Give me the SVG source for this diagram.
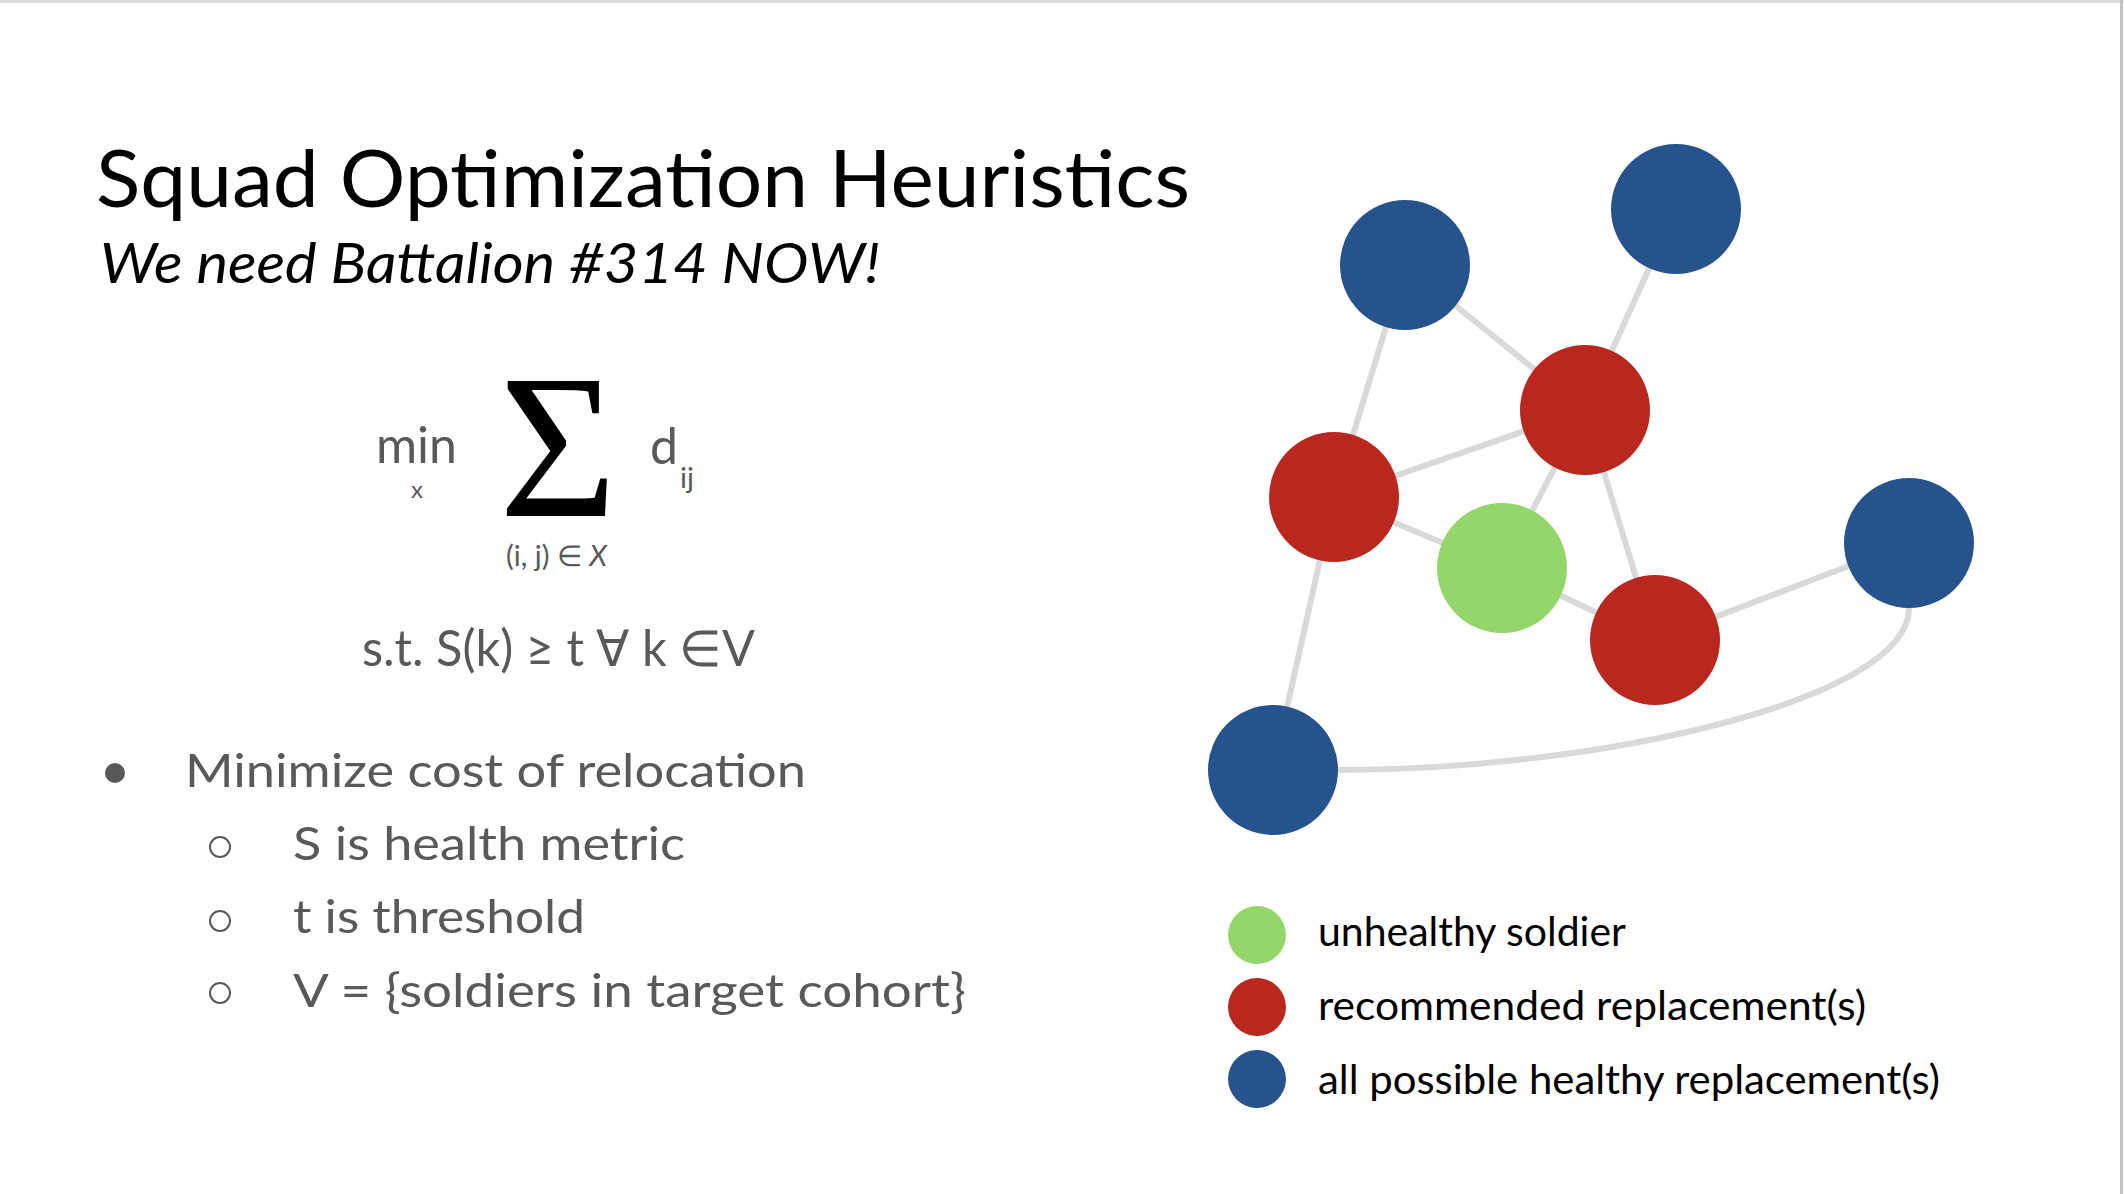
<svg xmlns="http://www.w3.org/2000/svg" width="2124" height="1194" viewBox="0 0 2124 1194">
<style>
.title{font-family:"Lato","Liberation Sans",sans-serif;fill:#000}
.gray{font-family:"Lato","Liberation Sans",sans-serif;fill:#595959}
.leg{font-family:"Lato","Liberation Sans",sans-serif;fill:#000;font-size:41px}
.edge{fill:none;stroke:#d9d9d9;stroke-width:6}
.blue{fill:#26538d}
.red{fill:#ba271e}
.green{fill:#93d76a}
.hollow{fill:none;stroke:#595959;stroke-width:2}
</style>
<rect x="0" y="0" width="2124" height="1194" fill="#ffffff"/>
<rect x="0" y="0" width="2124" height="3" fill="#dadce0"/>
<rect x="2120" y="0" width="3" height="1194" fill="#c4c4c4"/>

<g id="title">
<text class="title" x="96" y="207" font-size="80" textLength="1094" lengthAdjust="spacingAndGlyphs">Squad Optimization Heuristics</text>
<text class="title" x="100" y="283" font-size="56" font-style="italic" textLength="780" lengthAdjust="spacingAndGlyphs">We need Battalion #314 NOW!</text>
</g>

<g id="formula">
<text class="gray" x="376" y="463" font-size="50" textLength="81" lengthAdjust="spacingAndGlyphs">min</text>
<text class="gray" x="417" y="498" font-size="24" text-anchor="middle">x</text>
<text x="558" y="516" font-family="Liberation Serif,serif" font-size="206" text-anchor="middle" fill="#000" textLength="118" lengthAdjust="spacingAndGlyphs">Σ</text>
<text class="gray" x="650" y="464" font-size="50">d</text>
<text class="gray" x="680" y="488" font-size="29">ij</text>
<text class="gray" x="506" y="566" font-size="29">(i, j) ∈ <tspan font-style="italic">X</tspan></text>
<text class="gray" x="362" y="666" font-size="50" textLength="393" lengthAdjust="spacingAndGlyphs">s.t. S(k) ≥ t ∀ k ∈V</text>
</g>

<g id="bullets">
<circle cx="115" cy="773" r="10" fill="#595959"/>
<text class="gray" x="185" y="787" font-size="46" textLength="621" lengthAdjust="spacingAndGlyphs">Minimize cost of relocation</text>
<circle class="hollow" cx="220" cy="847" r="10"/>
<text class="gray" x="293" y="860" font-size="46" textLength="392" lengthAdjust="spacingAndGlyphs">S is health metric</text>
<circle class="hollow" cx="220" cy="921" r="10"/>
<text class="gray" x="293" y="933" font-size="46" textLength="292" lengthAdjust="spacingAndGlyphs">t is threshold</text>
<circle class="hollow" cx="220" cy="993" r="10"/>
<text class="gray" x="293" y="1007" font-size="46" textLength="673" lengthAdjust="spacingAndGlyphs">V = {soldiers in target cohort}</text>
</g>

<g id="connectors">
<line class="edge" x1="1405" y1="265" x2="1334" y2="497"/>
<line class="edge" x1="1405" y1="265" x2="1585" y2="410"/>
<line class="edge" x1="1676" y1="209" x2="1585" y2="410"/>
<line class="edge" x1="1334" y1="497" x2="1585" y2="410"/>
<line class="edge" x1="1585" y1="410" x2="1502" y2="568"/>
<line class="edge" x1="1585" y1="410" x2="1655" y2="640"/>
<line class="edge" x1="1334" y1="497" x2="1502" y2="568"/>
<line class="edge" x1="1502" y1="568" x2="1655" y2="640"/>
<line class="edge" x1="1655" y1="640" x2="1909" y2="543"/>
<line class="edge" x1="1334" y1="497" x2="1273" y2="770"/>
<path class="edge" d="M1273,770 L1338,770 C1600,770 1909,700 1909,608 L1909,543"/>
</g>

<g id="node-blue-1"><circle class="blue" cx="1405" cy="265" r="65"/></g>
<g id="node-blue-2"><circle class="blue" cx="1676" cy="209" r="65"/></g>
<g id="node-red-1"><circle class="red" cx="1585" cy="410" r="65"/></g>
<g id="node-red-2"><circle class="red" cx="1334" cy="497" r="65"/></g>
<g id="node-green"><circle class="green" cx="1502" cy="568" r="65"/></g>
<g id="node-red-3"><circle class="red" cx="1655" cy="640" r="65"/></g>
<g id="node-blue-3"><circle class="blue" cx="1909" cy="543" r="65"/></g>
<g id="node-blue-4"><circle class="blue" cx="1273" cy="770" r="65"/></g>

<g id="legend">
<circle class="green" cx="1257" cy="935" r="29"/>
<text class="leg" x="1318" y="946" textLength="308" lengthAdjust="spacingAndGlyphs">unhealthy soldier</text>
<circle class="red" cx="1257" cy="1007" r="29"/>
<text class="leg" x="1318" y="1020" textLength="548" lengthAdjust="spacingAndGlyphs">recommended replacement(s)</text>
<circle class="blue" cx="1257" cy="1079" r="29"/>
<text class="leg" x="1318" y="1094" textLength="622" lengthAdjust="spacingAndGlyphs">all possible healthy replacement(s)</text>
</g>
</svg>
